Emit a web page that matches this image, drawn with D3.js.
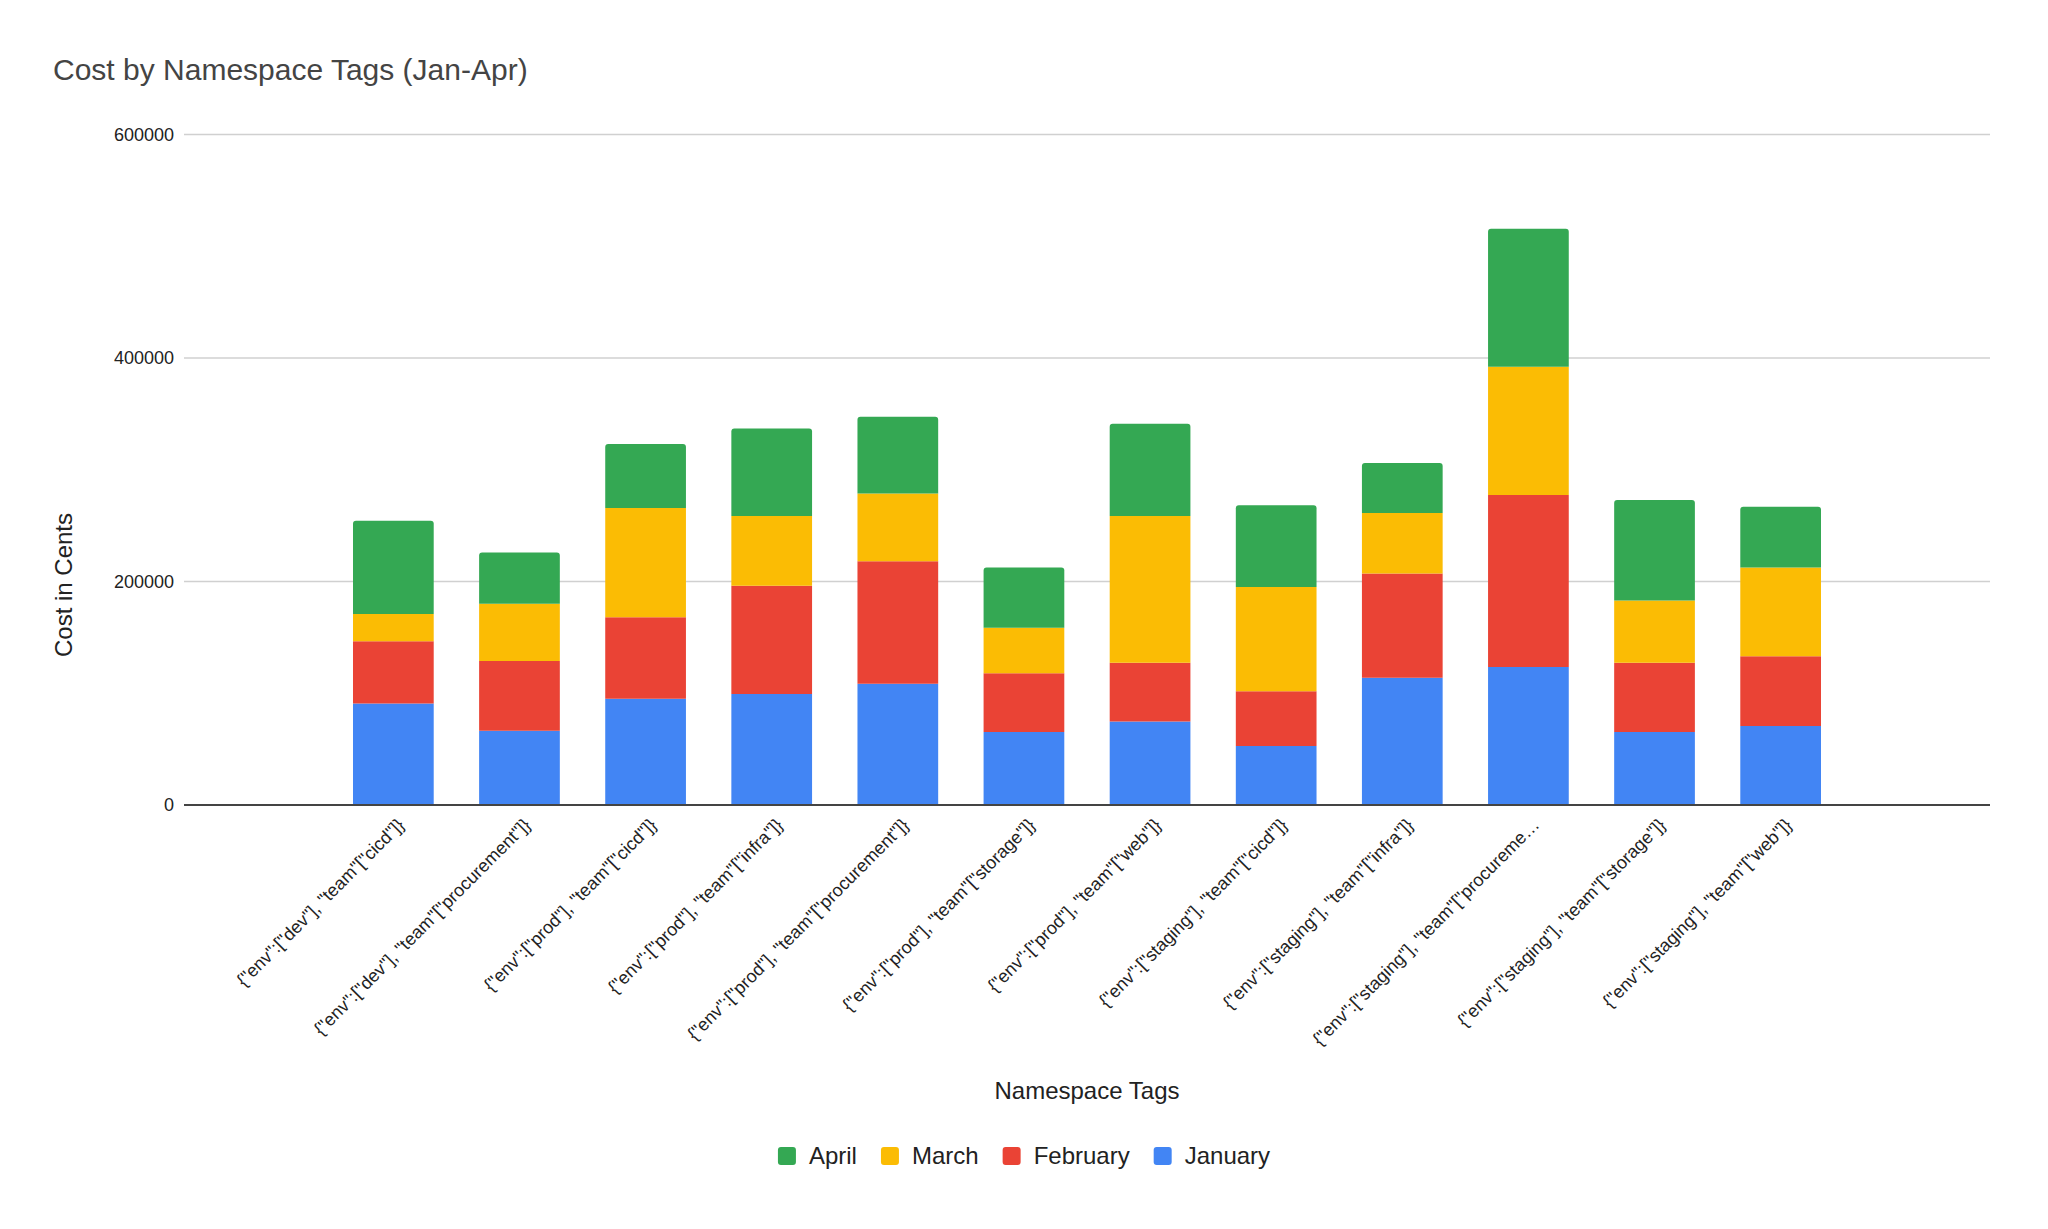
<!DOCTYPE html>
<html>
<head>
<meta charset="utf-8">
<script src="https://cdn.jsdelivr.net/npm/d3@7"></script>
<style>
  body { margin: 0; background: #fff; }
  svg { font-family: "Liberation Sans", Arial, sans-serif; }
</style>
</head>
<body>
<svg id="chart" width="2048" height="1229"></svg>
<script>
var categories = [
  '{"env":["dev"], "team"["cicd"]}',
  '{"env":["dev"], "team"["procurement"]}',
  '{"env":["prod"], "team"["cicd"]}',
  '{"env":["prod"], "team"["infra"]}',
  '{"env":["prod"], "team"["procurement"]}',
  '{"env":["prod"], "team"["storage"]}',
  '{"env":["prod"], "team"["web"]}',
  '{"env":["staging"], "team"["cicd"]}',
  '{"env":["staging"], "team"["infra"]}',
  '{"env":["staging"], "team"["procureme\u2026',
  '{"env":["staging"], "team"["storage"]}',
  '{"env":["staging"], "team"["web"]}'
];

var january  = [90800, 66400, 95100, 99300, 108500, 65300, 74800, 52800, 113800, 123400, 65300, 70600];
var february = [55700, 62400, 73000, 96900, 109600, 52500, 52600, 49000, 93300, 153900, 62000, 62400];
var march    = [24500, 51400, 97600, 62400, 60600, 40800, 131200, 93300, 54300, 114900, 55600, 79500];
var april    = [83300, 45700, 57400, 78400, 68800, 53900, 82600, 73100, 44700, 123400, 90100, 54300];

var months = ["January", "February", "March", "April"];
var colors = {January: "#4285f4", February: "#ea4335", March: "#fbbc04", April: "#34a853"};
var yTicks = [0, 200000, 400000, 600000];

var rows = categories.map(function(c, i){
  return {cat: c, January: january[i], February: february[i], March: march[i], April: april[i]};
});

var svg = d3.select("#chart");

var x = d3.scaleBand()
  .domain(categories)
  .range([184, 1990])
  .paddingInner(0.36)
  .paddingOuter(1.34);

var y = d3.scaleLinear()
  .domain([0, 600000])
  .range([805, 134.5]);

// title
svg.append("text")
  .attr("x", 53)
  .attr("y", 80)
  .style("font-size", "30px")
  .style("fill", "#444")
  .text("Cost by Namespace Tags (Jan-Apr)");

// gridlines + y labels
var yAxis = d3.axisLeft(y).tickValues(yTicks).tickSize(0).tickPadding(10).tickFormat(d3.format("d"));
var gy = svg.append("g").attr("transform", "translate(184,0)").call(yAxis);
gy.select(".domain").remove();
gy.selectAll("text").style("font-size", "18px").style("fill", "#222").attr("font-family", null);

svg.append("g").selectAll("line")
  .data(yTicks.filter(function(d){ return d > 0; }))
  .enter().append("line")
    .attr("x1", 184).attr("x2", 1990)
    .attr("y1", function(d){ return y(d); })
    .attr("y2", function(d){ return y(d); })
    .style("stroke", "#d0d0d0")
    .style("stroke-width", 1.5);

// stacked bars
var stack = d3.stack().keys(months);
var series = stack(rows);

function barPath(d, top) {
  var x0 = x(d.data.cat), w = x.bandwidth();
  var y0 = y(d[0]), y1 = y(d[1]);
  if (!top) return "M" + x0 + "," + y0 + "V" + y1 + "H" + (x0 + w) + "V" + y0 + "Z";
  var r = 3;
  return "M" + x0 + "," + y0 + "V" + (y1 + r) + "Q" + x0 + "," + y1 + " " + (x0 + r) + "," + y1 +
    "H" + (x0 + w - r) + "Q" + (x0 + w) + "," + y1 + " " + (x0 + w) + "," + (y1 + r) + "V" + y0 + "Z";
}

svg.append("g").selectAll("g")
  .data(series)
  .enter().append("g")
    .style("fill", function(s){ return colors[s.key]; })
  .selectAll("path")
  .data(function(s){ return s.map(function(d){ d.top = s.key === "April"; return d; }); })
  .enter().append("path")
    .attr("d", function(d){ return barPath(d, d.top); });

// baseline
svg.append("line")
  .attr("x1", 184).attr("x2", 1990)
  .attr("y1", y(0)).attr("y2", y(0))
  .style("stroke", "#444")
  .style("stroke-width", 2);

// x labels, slanted
svg.append("g").selectAll("text")
  .data(categories)
  .enter().append("text")
    .attr("transform", function(d){
      return "translate(" + (x(d) + x.bandwidth() / 2 + 12) + ",826) rotate(-45)";
    })
    .attr("text-anchor", "end")
    .style("font-size", "18px")
    .style("fill", "#222")
    .text(function(d){ return d; });

// axis titles
svg.append("text")
  .attr("transform", "translate(72,585) rotate(-90)")
  .attr("text-anchor", "middle")
  .style("font-size", "24px")
  .style("fill", "#222")
  .text("Cost in Cents");

svg.append("text")
  .attr("x", 1087)
  .attr("y", 1099)
  .attr("text-anchor", "middle")
  .style("font-size", "24px")
  .style("fill", "#222")
  .text("Namespace Tags");

// legend
var legendOrder = ["April", "March", "February", "January"];
var legend = svg.append("g");
var lx = 0;
legendOrder.forEach(function(m){
  var item = legend.append("g").attr("transform", "translate(" + lx + ",0)");
  item.append("rect")
    .attr("x", 0).attr("y", 1147)
    .attr("width", 18).attr("height", 18)
    .attr("rx", 3)
    .style("fill", colors[m]);
  var t = item.append("text")
    .attr("x", 31).attr("y", 1164)
    .style("font-size", "24px")
    .style("fill", "#222")
    .text(m);
  lx += 31 + t.node().getComputedTextLength() + 24;
});
legend.attr("transform", "translate(" + (1024 - (lx - 24) / 2) + ",0)");
</script>
</body>
</html>
